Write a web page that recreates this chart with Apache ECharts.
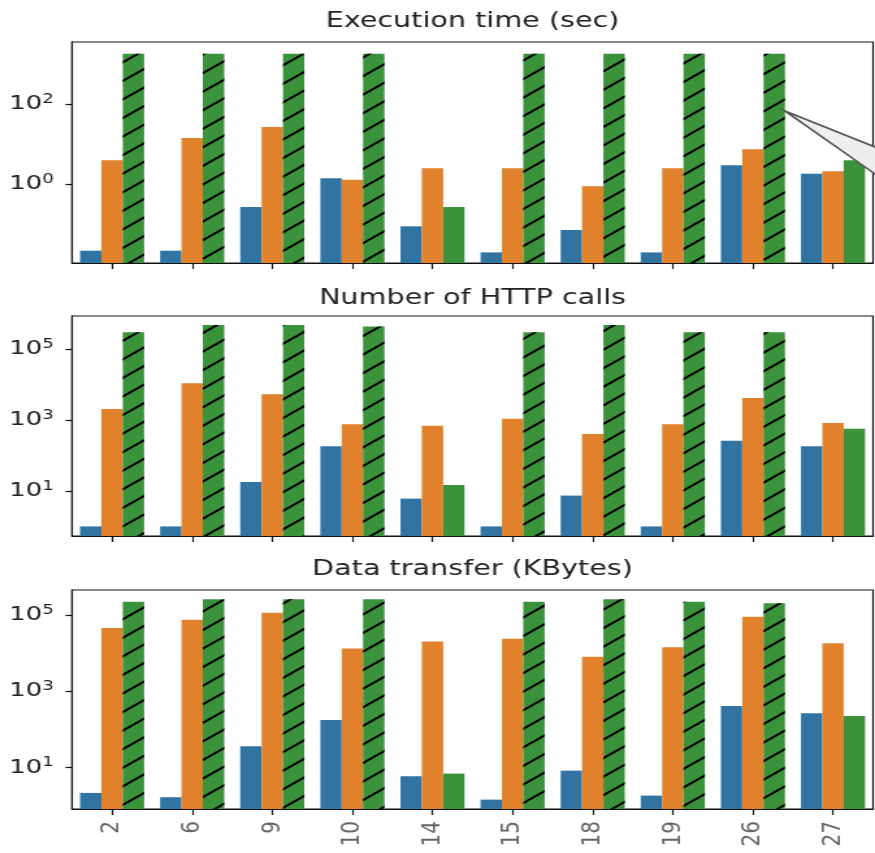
<!DOCTYPE html>
<html>
<head>
<meta charset="utf-8">
<script src="https://cdn.jsdelivr.net/npm/echarts@6/dist/echarts.min.js"></script>
<style>
  html, body { margin: 0; padding: 0; background: #fff; overflow: hidden; }
  #wrap { width: 875px; height: 853px; overflow: hidden; }
  #chart { width: 673px; height: 853px; transform: scaleX(1.30015); transform-origin: 0 0; }
</style>
</head>
<body>
<div id="wrap"><div id="chart"></div></div>
<script>
// ---- data ----
const categories = ['2', '6', '9', '10', '14', '15', '18', '19', '26', '27'];
const timedOut = [true, true, true, true, false, true, true, true, true, false];

const panelTitles = ['Execution time (sec)', 'Number of HTTP calls', 'Data transfer (KBytes)'];

const execBlue   = [0.0215, 0.0215, 0.266, 1.39, 0.0875, 0.0195, 0.0708, 0.0195, 2.93, 1.81];
const execOrange = [3.9, 14.1, 26.6, 1.28, 2.47, 2.47, 0.875, 2.47, 7.36, 2.07];
const execGreen  = [1800, 1800, 1800, 1800, 0.266, 1800, 1800, 1800, 1800, 3.91];

const httpBlue   = [1, 1, 17.9, 181, 6.07, 1, 7.4, 1, 261, 181];
const httpOrange = [2040, 10800, 5300, 757, 692, 1090, 404, 757, 4170, 822];
const httpGreen  = [296000, 474000, 474000, 428000, 14.8, 296000, 474000, 296000, 296000, 569];

const dataBlue   = [2.13, 1.64, 35.8, 175, 5.84, 1.42, 8.18, 1.81, 409, 263];
const dataOrange = [45600, 75300, 115000, 13100, 20000, 23900, 8050, 14200, 90400, 18100];
const dataGreen  = [223000, 258000, 258000, 258000, 6.84, 223000, 258000, 223000, 202000, 223];

// y tick values (log axes)
const execTicks = [1, 100];
const httpTicks = [10, 1000, 100000];
const dataTicks = [10, 1000, 100000];

// axis ranges as decimal exponents
const execRange = [-1.975, 3.55];
const httpRange = [-0.27, 5.93];
const dataRange = [-0.094, 5.656];

// ---- layout / style ----
const colors = ['#3274a1', '#e1812c', '#3a923a'];
const panels = [
  { blue: execBlue, orange: execOrange, green: execGreen, ticks: execTicks, range: execRange, top: 42, height: 221, titleY: 21.5 },
  { blue: httpBlue, orange: httpOrange, green: httpGreen, ticks: httpTicks, range: httpRange, top: 316, height: 220, titleY: 298 },
  { blue: dataBlue, orange: dataOrange, green: dataGreen, ticks: dataTicks, range: dataRange, top: 590, height: 219, titleY: 569 }
];
const W = 673;
const gridLeft = 55.4, gridRight = 1.5;

const hatch = {
  symbol: 'rect', symbolSize: 1, color: '#000',
  dashArrayX: [1, 0], dashArrayY: [2, 13], rotation: -0.63
};

const chart = echarts.init(document.getElementById('chart'), null, { width: W, height: 853 });

const grids = [], xAxes = [], yAxes = [], series = [], graphics = [];
panels.forEach((p, i) => {
  grids.push({ left: gridLeft, right: gridRight, top: p.top, height: p.height, show: true,
    borderColor: '#111', borderWidth: 1.2, backgroundColor: 'transparent', containLabel: false });
  xAxes.push({
    type: 'category', gridIndex: i, data: categories, boundaryGap: true,
    axisLine: { show: true, lineStyle: { color: '#111', width: 1.2 } },
    axisTick: { show: true, alignWithLabel: true, length: 6, lineStyle: { color: '#111', width: 1.2 } },
    axisLabel: { show: i === 2, rotate: 90, margin: 12, fontFamily: 'DejaVu Sans', fontSize: 20, color: '#666' },
    splitLine: { show: false }
  });
  const lo = Math.pow(10, p.range[0]), hi = Math.pow(10, p.range[1]);
  yAxes.push({
    type: 'log', logBase: 10, gridIndex: i, min: lo, max: hi, startValue: lo,
    splitLine: { show: false }, minorTick: { show: false }, minorSplitLine: { show: false },
    axisLine: { show: true, lineStyle: { color: '#111', width: 1.2 } },
    axisTick: { show: true, length: 5, customValues: p.ticks, lineStyle: { color: '#111', width: 1.2 } },
    axisLabel: {
      customValues: p.ticks, margin: 14, color: '#222', fontFamily: 'DejaVu Sans', fontSize: 20,
      formatter: v => '{b|10}{e|' + Math.round(Math.log10(v)) + '}',
      rich: {
        b: { fontFamily: 'DejaVu Sans', fontSize: 20, lineHeight: 24, color: '#222' },
        e: { fontFamily: 'DejaVu Sans', fontSize: 14, lineHeight: 14, verticalAlign: 'top', color: '#222' }
      }
    }
  });
  const sets = [p.blue, p.orange, p.green];
  sets.forEach((vals, k) => {
    series.push({
      type: 'bar', name: ['s1', 's2', 's3'][k], xAxisIndex: i, yAxisIndex: i,
      barGap: '0%', barCategoryGap: '20%',
      itemStyle: { color: colors[k] },
      data: vals.map((v, j) => (k === 2 && timedOut[j])
        ? { value: v, itemStyle: { color: colors[k], decal: hatch } }
        : { value: v }),
      emphasis: { disabled: true }, animation: false
    });
  });
  graphics.push({
    type: 'text', x: gridLeft + (W - gridLeft - gridRight) / 2, y: p.titleY, z: 10,
    style: { text: panelTitles[i], fontFamily: 'DejaVu Sans', fontSize: 22, fill: '#222',
      textAlign: 'center', textVerticalAlign: 'middle' }
  });
});

chart.setOption({
  animation: false,
  grid: grids, xAxis: xAxes, yAxis: yAxes, series: series, graphic: graphics
});

// callout pointing from the green bar of category '26' in the first panel
const c26 = chart.convertToPixel({ gridIndex: 0 }, ['26', 67]);
const c27 = chart.convertToPixel({ gridIndex: 0 }, ['27', 67]);
const catW = c27[0] - c26[0];
const ax = c26[0] + 1.5 * (catW * 0.8 / 3);
const ay = c26[1];
const far = W + 30;
graphics.push({
  type: 'polygon', z: 20,
  shape: { points: [[ax, ay], [far, ay + (far - ax) * 0.52], [far, ay + (far - ax) * 0.91]] },
  style: { fill: '#eeeeee', stroke: '#555', lineWidth: 1.6 }
});
chart.setOption({ graphic: graphics });
</script>
</body>
</html>
